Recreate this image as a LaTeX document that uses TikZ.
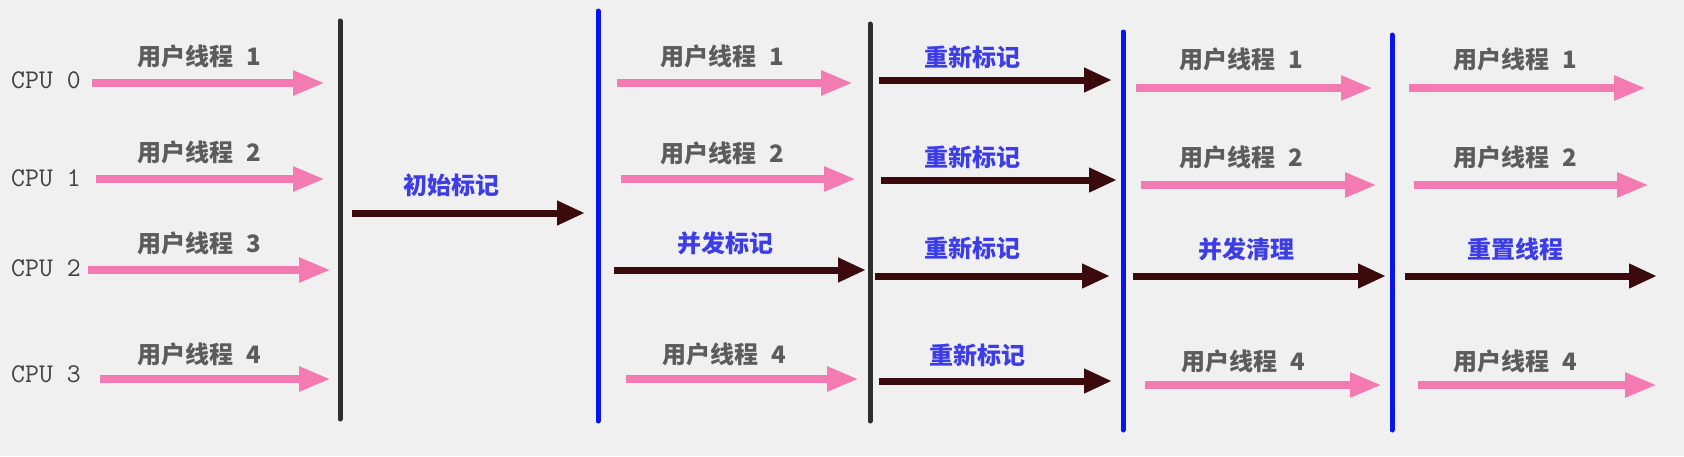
\documentclass[tikz,border=0pt]{standalone}
\usepackage{fontspec}
\newfontfamily\cjk{Noto Sans CJK SC}
\usetikzlibrary{arrows.meta}
\definecolor{paper}{HTML}{F0F0F0}
\definecolor{threadpink}{HTML}{F47AB2}
\definecolor{gcdark}{HTML}{3A0A0C}
\definecolor{phaseblue}{HTML}{3C3CE8}
\definecolor{barblue}{HTML}{0A14F0}
\tikzset{
	user/.style={line width=4pt, color=threadpink, -{Triangle[length=16pt,width=11.5pt]}},
	gc/.style={line width=3.5pt, color=gcdark, -{Triangle[length=14pt,width=11.5pt]}},
	stopbar/.style={line width=2.5pt, color=black!82, line cap=round},
	phasebar/.style={line width=2.5pt, color=barblue, line cap=round},
	ulabel/.style={font=\cjk\bfseries\fontsize{12}{12}\selectfont, text=black!64},
	glabel/.style={font=\cjk\bfseries\fontsize{12}{12}\selectfont, text=phaseblue},
	cpulabel/.style={font=\ttfamily\fontsize{13.5}{13.5}\selectfont, text=black!75}
}
\newcommand{\ut}[1]{用户线程\hspace{0.55em}#1}

\begin{document}
\begin{tikzpicture}[x=0.5pt, y=-0.5pt]
			%%%%% START %%%%%
			\fill[paper] (0,0) rectangle (1684,456);
			
			% cpus
			\node[cpulabel] (cpu0) at (46,80) {CPU 0};
			\node[cpulabel] (cpu1) at (46,178) {CPU 1};
			\node[cpulabel] (cpu2) at (46,268) {CPU 2};
			\node[cpulabel] (cpu3) at (46,374) {CPU 3};
			
			% pauses
			\draw[stopbar] (340,21) -- (340,419);
			\draw[phasebar] (598,11) -- (598,421);
			\draw[stopbar] (870,24) -- (870,421);
			\draw[phasebar] (1123,32) -- (1123,430);
			\draw[phasebar] (1392,35) -- (1392,430);
			
			% before initial mark
			\draw[user] (92,83) -- (325,83);
			\node[ulabel] (a0) at (199,56) {\ut{1}};
			\draw[user] (96,179) -- (325,179);
			\node[ulabel] (a1) at (199,152) {\ut{2}};
			\draw[user] (88,270) -- (331,270);
			\node[ulabel] (a2) at (199,243) {\ut{3}};
			\draw[user] (100,379) -- (331,379);
			\node[ulabel] (a3) at (199,354) {\ut{4}};
			
			% initial mark
			\draw[gc] (352,213) -- (585,213);
			\node[glabel] (init) at (451,185) {初始标记};
			
			% concurrent mark
			\draw[user] (617,83) -- (853,83);
			\node[ulabel] (b0) at (722,56) {\ut{1}};
			\draw[user] (621,179) -- (856,179);
			\node[ulabel] (b1) at (722,153) {\ut{2}};
			\draw[gc] (614,270) -- (866,270);
			\node[glabel] (conc) at (725,243) {并发标记};
			\draw[user] (626,379) -- (859,379);
			\node[ulabel] (b3) at (724,354) {\ut{4}};
			
			% remark
			\draw[gc] (879,80) -- (1112,80);
			\node[glabel] (re0) at (972,57) {重新标记};
			\draw[gc] (881,180) -- (1117,180);
			\node[glabel] (re1) at (972,157) {重新标记};
			\draw[gc] (875,276) -- (1110,276);
			\node[glabel] (re2) at (972,248) {重新标记};
			\draw[gc] (879,381) -- (1112,381);
			\node[glabel] (re3) at (977,355) {重新标记};
			
			% concurrent sweep
			\draw[user] (1136,88) -- (1373,88);
			\node[ulabel] (c0) at (1241,59) {\ut{1}};
			\draw[user] (1141,185) -- (1377,185);
			\node[ulabel] (c1) at (1241,157) {\ut{2}};
			\draw[gc] (1133,276) -- (1386,276);
			\node[glabel] (sweep) at (1246,249) {并发清理};
			\draw[user] (1145,385) -- (1382,385);
			\node[ulabel] (c3) at (1243,361) {\ut{4}};
			
			% reset
			\draw[user] (1409,88) -- (1646,88);
			\node[ulabel] (d0) at (1515,59) {\ut{1}};
			\draw[user] (1414,185) -- (1649,185);
			\node[ulabel] (d1) at (1515,157) {\ut{2}};
			\draw[gc] (1405,276) -- (1657,276);
			\node[glabel] (reset) at (1515,249) {重置线程};
			\draw[user] (1418,385) -- (1657,385);
			\node[ulabel] (d3) at (1515,361) {\ut{4}};
			
			%%%%% END %%%%%
		\end{tikzpicture}
\end{document}
